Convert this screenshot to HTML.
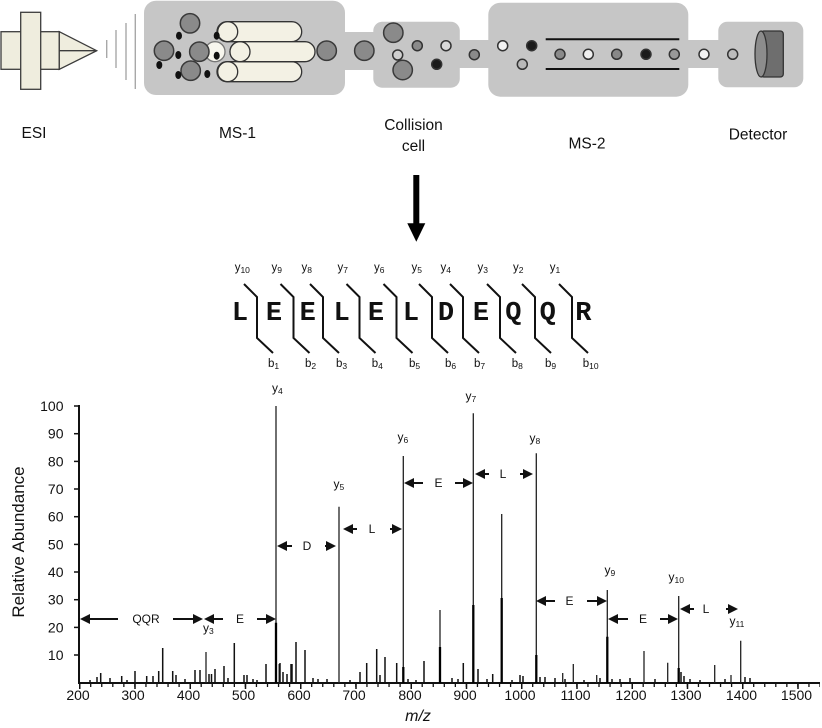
<!DOCTYPE html>
<html><head><meta charset="utf-8"><style>
html,body{margin:0;padding:0;background:#fff;}
svg{display:block;}
.t{font-family:"Liberation Sans",sans-serif;}
</style></head><body>
<svg width="822" height="728" viewBox="0 0 822 728" xmlns="http://www.w3.org/2000/svg">
<rect width="822" height="728" fill="#fff"/>

<!-- ESI -->
<g fill="#efedde" stroke="#3c3c3c" stroke-width="1.3">
<rect x="1" y="31.7" width="58.3" height="37.6"/>
<rect x="20.7" y="12.3" width="20" height="77"/>
<polygon points="59.3,31.7 96.7,50.7 59.3,69.3"/>
<line x1="59.3" y1="50.7" x2="96.7" y2="50.7"/>
</g>
<g stroke="#a8a8a8" stroke-width="1.4">
<line x1="106.7" y1="40" x2="106.7" y2="58"/>
<line x1="116" y1="30" x2="116" y2="68"/>
<line x1="126" y1="23" x2="126" y2="80"/>
<line x1="135.3" y1="14" x2="135.3" y2="89"/>
</g>

<!-- boxes -->
<g fill="#c6c6c6">
<rect x="335" y="32" width="45" height="38"/>
<rect x="455" y="40" width="38" height="28"/>
<rect x="684" y="40" width="40" height="28"/>
<rect x="144" y="0.7" width="201" height="94.3" rx="12"/>
<rect x="373.3" y="21.7" width="86.5" height="66" rx="9"/>
<rect x="488.3" y="2.7" width="200" height="94" rx="12"/>
<rect x="718.3" y="21.7" width="85" height="65.6" rx="9"/>
</g>

<!-- MS-1 rods -->
<g stroke="#333" stroke-width="1.3" fill="#f3f1e4">
<circle cx="215" cy="51.7" r="10" fill="#f7f6ee" stroke="#777"/>
<rect x="217" y="21.7" width="84.7" height="20" rx="10"/>
<circle cx="227.7" cy="31.7" r="10"/>
<rect x="217" y="61.7" width="84.7" height="20" rx="10"/>
<circle cx="227.7" cy="71.7" r="10"/>
<rect x="230" y="41.7" width="85" height="20" rx="10"/>
<circle cx="240" cy="51.7" r="10"/>
</g>
<g fill="#8a8a8a" stroke="#3a3a3a" stroke-width="1.5">
<circle cx="190" cy="23.3" r="9.7"/>
<circle cx="164" cy="50.7" r="9.7"/>
<circle cx="199.3" cy="51.7" r="9.7"/>
<circle cx="190.7" cy="70.7" r="9.7"/>
<circle cx="326.7" cy="50.7" r="9.7"/>
<circle cx="364.3" cy="50.7" r="9.7"/>
<circle cx="393.3" cy="32.7" r="9.7"/>
<circle cx="402.7" cy="70" r="9.7"/>
</g>
<g fill="#111">
<ellipse cx="179" cy="35.7" rx="3" ry="4"/>
<ellipse cx="159.3" cy="65" rx="3" ry="4"/>
<ellipse cx="178.3" cy="55" rx="3" ry="4"/>
<ellipse cx="178.3" cy="75" rx="3" ry="4"/>
<ellipse cx="207.3" cy="74" rx="3" ry="4"/>
<ellipse cx="216.7" cy="35.7" rx="3" ry="4"/>
<ellipse cx="216.7" cy="55.7" rx="3" ry="4"/>
</g>
<!-- small ions -->
<g stroke="#333" stroke-width="1.5">
<circle cx="417.3" cy="45.7" r="5" fill="#8a8a8a"/>
<circle cx="397.7" cy="55" r="5" fill="#cfcfcf"/>
<circle cx="446" cy="45.7" r="5" fill="#d8d8d8"/>
<circle cx="436.7" cy="64.3" r="5" fill="#1a1a1a"/>
<circle cx="474.3" cy="54.7" r="5" fill="#8a8a8a"/>
<circle cx="502.7" cy="45.7" r="5" fill="#f2f2f2"/>
<circle cx="531.7" cy="45.7" r="5" fill="#1a1a1a"/>
<circle cx="522.3" cy="64.3" r="5" fill="#b8b8b8"/>
<circle cx="560" cy="54.3" r="5" fill="#8a8a8a"/>
<circle cx="588.3" cy="54.3" r="5" fill="#efefef"/>
<circle cx="616.7" cy="54.3" r="5" fill="#888"/>
<circle cx="646" cy="54.3" r="5" fill="#1a1a1a"/>
<circle cx="674.3" cy="54.3" r="5" fill="#999"/>
<circle cx="704" cy="54.3" r="5" fill="#f2f2f2"/>
<circle cx="732.7" cy="54.3" r="5" fill="#bbb"/>
</g>
<g stroke="#111" stroke-width="2">
<line x1="545.7" y1="39.3" x2="679.3" y2="39.3"/>
<line x1="545.7" y1="69" x2="679.3" y2="69"/>
</g>
<!-- detector -->
<rect x="761" y="31" width="22.3" height="46" rx="3" fill="#6e6e6e" stroke="#333" stroke-width="1.3"/>
<ellipse cx="761" cy="54" rx="6" ry="23" fill="#8c8c8c" stroke="#333" stroke-width="1.3"/>

<!-- instrument labels -->
<g class="t" font-size="15.5" fill="#111" text-anchor="middle">
<text x="34" y="138">ESI</text>
<text x="237.5" y="138">MS-1</text>
<text x="413.5" y="130">Collision</text>
<text x="413.5" y="151">cell</text>
<text x="587" y="148.5">MS-2</text>
<text x="758" y="139.5">Detector</text>
</g>

<!-- down arrow -->
<rect x="413.3" y="175" width="6" height="50" fill="#000"/>
<polygon points="407.3,223.3 425.3,223.3 416.3,241.7" fill="#000"/>

<!-- peptide -->
<g font-family="'Liberation Mono','Courier New',monospace" font-weight="bold" font-size="27" text-anchor="middle" fill="#111">
<text x="240" y="320">L</text>
<text x="274" y="320">E</text>
<text x="307.7" y="320">E</text>
<text x="341.7" y="320">L</text>
<text x="376" y="320">E</text>
<text x="411" y="320">L</text>
<text x="446" y="320">D</text>
<text x="481" y="320">E</text>
<text x="513.3" y="320">Q</text>
<text x="547.7" y="320">Q</text>
<text x="583.3" y="320">R</text>
</g>
<g fill="none" stroke="#111" stroke-width="2">
<polyline points="244,284 257,297 257,338 273,353"/>
<polyline points="280.5,284 293.5,297 293.5,338 309.5,353"/>
<polyline points="310,284 323,297 323,338 339,353"/>
<polyline points="346.5,284 359.5,297 359.5,338 375.5,353"/>
<polyline points="383.5,284 396.5,297 396.5,338 412.5,353"/>
<polyline points="419,284 432,297 432,338 448,353"/>
<polyline points="450,284 463,297 463,338 479,353"/>
<polyline points="487,284 500,297 500,338 516,353"/>
<polyline points="522,284 535,297 535,338 551,353"/>
<polyline points="559,284 572,297 572,338 588,353"/>
</g>
<g class="t" font-size="11.5" fill="#111" text-anchor="middle">
<text x="242.3" y="271">y<tspan font-size="8.5" dy="2">10</tspan></text>
<text x="276.7" y="271">y<tspan font-size="8.5" dy="2">9</tspan></text>
<text x="306.7" y="271">y<tspan font-size="8.5" dy="2">8</tspan></text>
<text x="342.7" y="271">y<tspan font-size="8.5" dy="2">7</tspan></text>
<text x="379.3" y="271">y<tspan font-size="8.5" dy="2">6</tspan></text>
<text x="416.7" y="271">y<tspan font-size="8.5" dy="2">5</tspan></text>
<text x="445.7" y="271">y<tspan font-size="8.5" dy="2">4</tspan></text>
<text x="482.7" y="271">y<tspan font-size="8.5" dy="2">3</tspan></text>
<text x="518.3" y="271">y<tspan font-size="8.5" dy="2">2</tspan></text>
<text x="555" y="271">y<tspan font-size="8.5" dy="2">1</tspan></text>
</g>
<g class="t" font-size="11.5" fill="#111">
<text x="268" y="367">b<tspan font-size="8.5" dy="2">1</tspan></text>
<text x="305" y="367">b<tspan font-size="8.5" dy="2">2</tspan></text>
<text x="336" y="367">b<tspan font-size="8.5" dy="2">3</tspan></text>
<text x="371.7" y="367">b<tspan font-size="8.5" dy="2">4</tspan></text>
<text x="409" y="367">b<tspan font-size="8.5" dy="2">5</tspan></text>
<text x="445" y="367">b<tspan font-size="8.5" dy="2">6</tspan></text>
<text x="474" y="367">b<tspan font-size="8.5" dy="2">7</tspan></text>
<text x="511.7" y="367">b<tspan font-size="8.5" dy="2">8</tspan></text>
<text x="545" y="367">b<tspan font-size="8.5" dy="2">9</tspan></text>
<text x="582.7" y="367">b<tspan font-size="8.5" dy="2">10</tspan></text>
</g>

<!-- spectrum axes -->
<g stroke="#111" stroke-width="2" fill="none">
<line x1="79" y1="405" x2="79" y2="684"/>
<line x1="78" y1="683" x2="820" y2="683"/>
</g>
<g stroke="#111" stroke-width="1.5">
<line x1="74" y1="406" x2="79" y2="406"/>
<line x1="74" y1="433.7" x2="79" y2="433.7"/>
<line x1="74" y1="461.4" x2="79" y2="461.4"/>
<line x1="74" y1="489" x2="79" y2="489"/>
<line x1="74" y1="516.7" x2="79" y2="516.7"/>
<line x1="74" y1="544.4" x2="79" y2="544.4"/>
<line x1="74" y1="572" x2="79" y2="572"/>
<line x1="74" y1="599.7" x2="79" y2="599.7"/>
<line x1="74" y1="627.4" x2="79" y2="627.4"/>
<line x1="74" y1="655" x2="79" y2="655"/>
</g>
<line x1="79" y1="685.5" x2="820" y2="685.5" stroke="#111" stroke-width="3" stroke-dasharray="1.3 9.75"/>
<line x1="79" y1="686.5" x2="820" y2="686.5" stroke="#111" stroke-width="5" stroke-dasharray="1.5 53.75"/>
<g class="t" font-size="14" fill="#111" text-anchor="end">
<text x="63.5" y="411">100</text>
<text x="63.5" y="438.7">90</text>
<text x="63.5" y="466.4">80</text>
<text x="63.5" y="494">70</text>
<text x="63.5" y="521.7">60</text>
<text x="63.5" y="549.4">50</text>
<text x="63.5" y="577">40</text>
<text x="63.5" y="604.7">30</text>
<text x="63.5" y="632.4">20</text>
<text x="63.5" y="660">10</text>
</g>
<g class="t" font-size="14" fill="#111" text-anchor="middle">
<text x="78" y="700">200</text>
<text x="133" y="700">300</text>
<text x="188.5" y="700">400</text>
<text x="243.5" y="700">500</text>
<text x="299" y="700">600</text>
<text x="354" y="700">700</text>
<text x="410" y="700">800</text>
<text x="465" y="700">900</text>
<text x="520" y="700">1000</text>
<text x="575.5" y="700">1100</text>
<text x="631" y="700">1200</text>
<text x="686" y="700">1300</text>
<text x="741.5" y="700">1400</text>
<text x="796.5" y="700">1500</text>
</g>
<text class="t" font-size="17" fill="#111" text-anchor="middle" transform="translate(24,542) rotate(-90)">Relative Abundance</text>
<text class="t" font-size="16" font-style="italic" fill="#111" text-anchor="middle" x="418" y="721">m/z</text>

<!-- peaks -->
<path fill="none" stroke="#222" stroke-width="1.3" d="M206 683V652 M276 683V406 M339 683V506.7 M403.3 683V456 M473.3 683V413.3 M501.7 683V514 M536.3 683V453.3 M607.3 683V590 M678.7 683V596 M740.7 683V640.7 M440 683V610 M644 683V651 M667.7 683V662.7 M714.7 683V665 M573.3 683V664 M562.7 683V673 M596.7 683V675 M731 683V675"/>
<path fill="none" stroke="#000" stroke-width="2.3" d="M276 683V622.7 M403.3 683V667 M473.3 683V605 M501.7 683V598 M536.3 683V655 M607.3 683V636.7 M440 683V647 M678.7 683V668"/>
<path fill="none" stroke="#111" stroke-width="1.5" d="M266 683V664 M296 683V642 M305 683V650 M291 683V664 M280 683V663 M366.7 683V663 M376.7 683V649 M385 683V657 M380 683V675 M396.7 683V663 M424 683V661 M463.3 683V663 M360 683V672 M492.7 683V674 M478 683V669 M162.7 683V648 M100.7 683V673 M135 683V671 M172.7 683V671 M195 683V670 M200 683V670 M215 683V669 M224 683V666 M234.3 683V643 M244 683V675 M247 683V675 M279.3 683V664 M283 683V672 M287 683V674 M292 683V664 M97 683V677 M110 683V678 M121.7 683V676 M146.7 683V676 M153 683V676 M158.7 683V671 M176 683V675 M185 683V679 M209 683V674 M211.5 683V674 M520 683V675 M523 683V676 M545 683V677 M555 683V678 M620 683V679 M630 683V678 M681 683V672 M684 683V676 M690 683V679 M600 683V678 M745 683V677 M750 683V678 M327 683V679 M313 683V678 M318 683V679 M350 683V680 M408 683V679 M416 683V680 M452 683V678 M458 683V679 M487 683V679 M512 683V680 M540 683V677 M565 683V679 M584 683V680 M612 683V679 M655 683V679 M700 683V680 M725 683V679 M127 683V680 M90 683V680 M228 683V678 M253 683V679 M257 683V680"/>

<!-- peak labels -->
<g class="t" font-size="12" fill="#111">
<text x="272" y="392">y<tspan font-size="8.5" dy="2">4</tspan></text>
<text x="203" y="632">y<tspan font-size="8.5" dy="2">3</tspan></text>
<text x="333.5" y="488">y<tspan font-size="8.5" dy="2">5</tspan></text>
<text x="397.5" y="441">y<tspan font-size="8.5" dy="2">6</tspan></text>
<text x="465.5" y="400">y<tspan font-size="8.5" dy="2">7</tspan></text>
<text x="529.5" y="442">y<tspan font-size="8.5" dy="2">8</tspan></text>
<text x="604.5" y="574">y<tspan font-size="8.5" dy="2">9</tspan></text>
<text x="668.5" y="581">y<tspan font-size="8.5" dy="2">10</tspan></text>
<text x="729.5" y="625">y<tspan font-size="8.5" dy="2">11</tspan></text>
</g>

<!-- mass difference arrows -->
<g stroke="#111" stroke-width="2" fill="none">
<path d="M88 619H118 M173 619H195"/>
<path d="M212 619H223 M257 619H268"/>
<path d="M285 546H292 M325 546H328"/>
<path d="M351 529H357 M390 529H394"/>
<path d="M412 483H423 M455 483H465"/>
<path d="M483 474H489 M520 474H525"/>
<path d="M544 601H555 M587 601H599"/>
<path d="M616 619H628 M660 619H670"/>
<path d="M688 609H694 M726 609H730"/>
</g>
<g fill="#111">
<polygon points="80,619 90,614 90,624"/><polygon points="203,619 193,614 193,624"/>
<polygon points="204,619 214,614 214,624"/><polygon points="276,619 266,614 266,624"/>
<polygon points="277,546 287,541 287,551"/><polygon points="336,546 326,541 326,551"/>
<polygon points="343,529 353,524 353,534"/><polygon points="402,529 392,524 392,534"/>
<polygon points="404,483 414,478 414,488"/><polygon points="473,483 463,478 463,488"/>
<polygon points="475,474 485,469 485,479"/><polygon points="533,474 523,469 523,479"/>
<polygon points="536,601 546,596 546,606"/><polygon points="607,601 597,596 597,606"/>
<polygon points="608,619 618,614 618,624"/><polygon points="678,619 668,614 668,624"/>
<polygon points="680,609 690,604 690,614"/><polygon points="738,609 728,604 728,614"/>
</g>
<g class="t" font-size="12" fill="#111" text-anchor="middle">
<text x="146" y="623">QQR</text>
<text x="240" y="623">E</text>
<text x="307" y="550">D</text>
<text x="372" y="533">L</text>
<text x="438.5" y="487">E</text>
<text x="503" y="478">L</text>
<text x="569.5" y="605">E</text>
<text x="643" y="623">E</text>
<text x="706" y="613">L</text>
</g>
</svg>
</body></html>
